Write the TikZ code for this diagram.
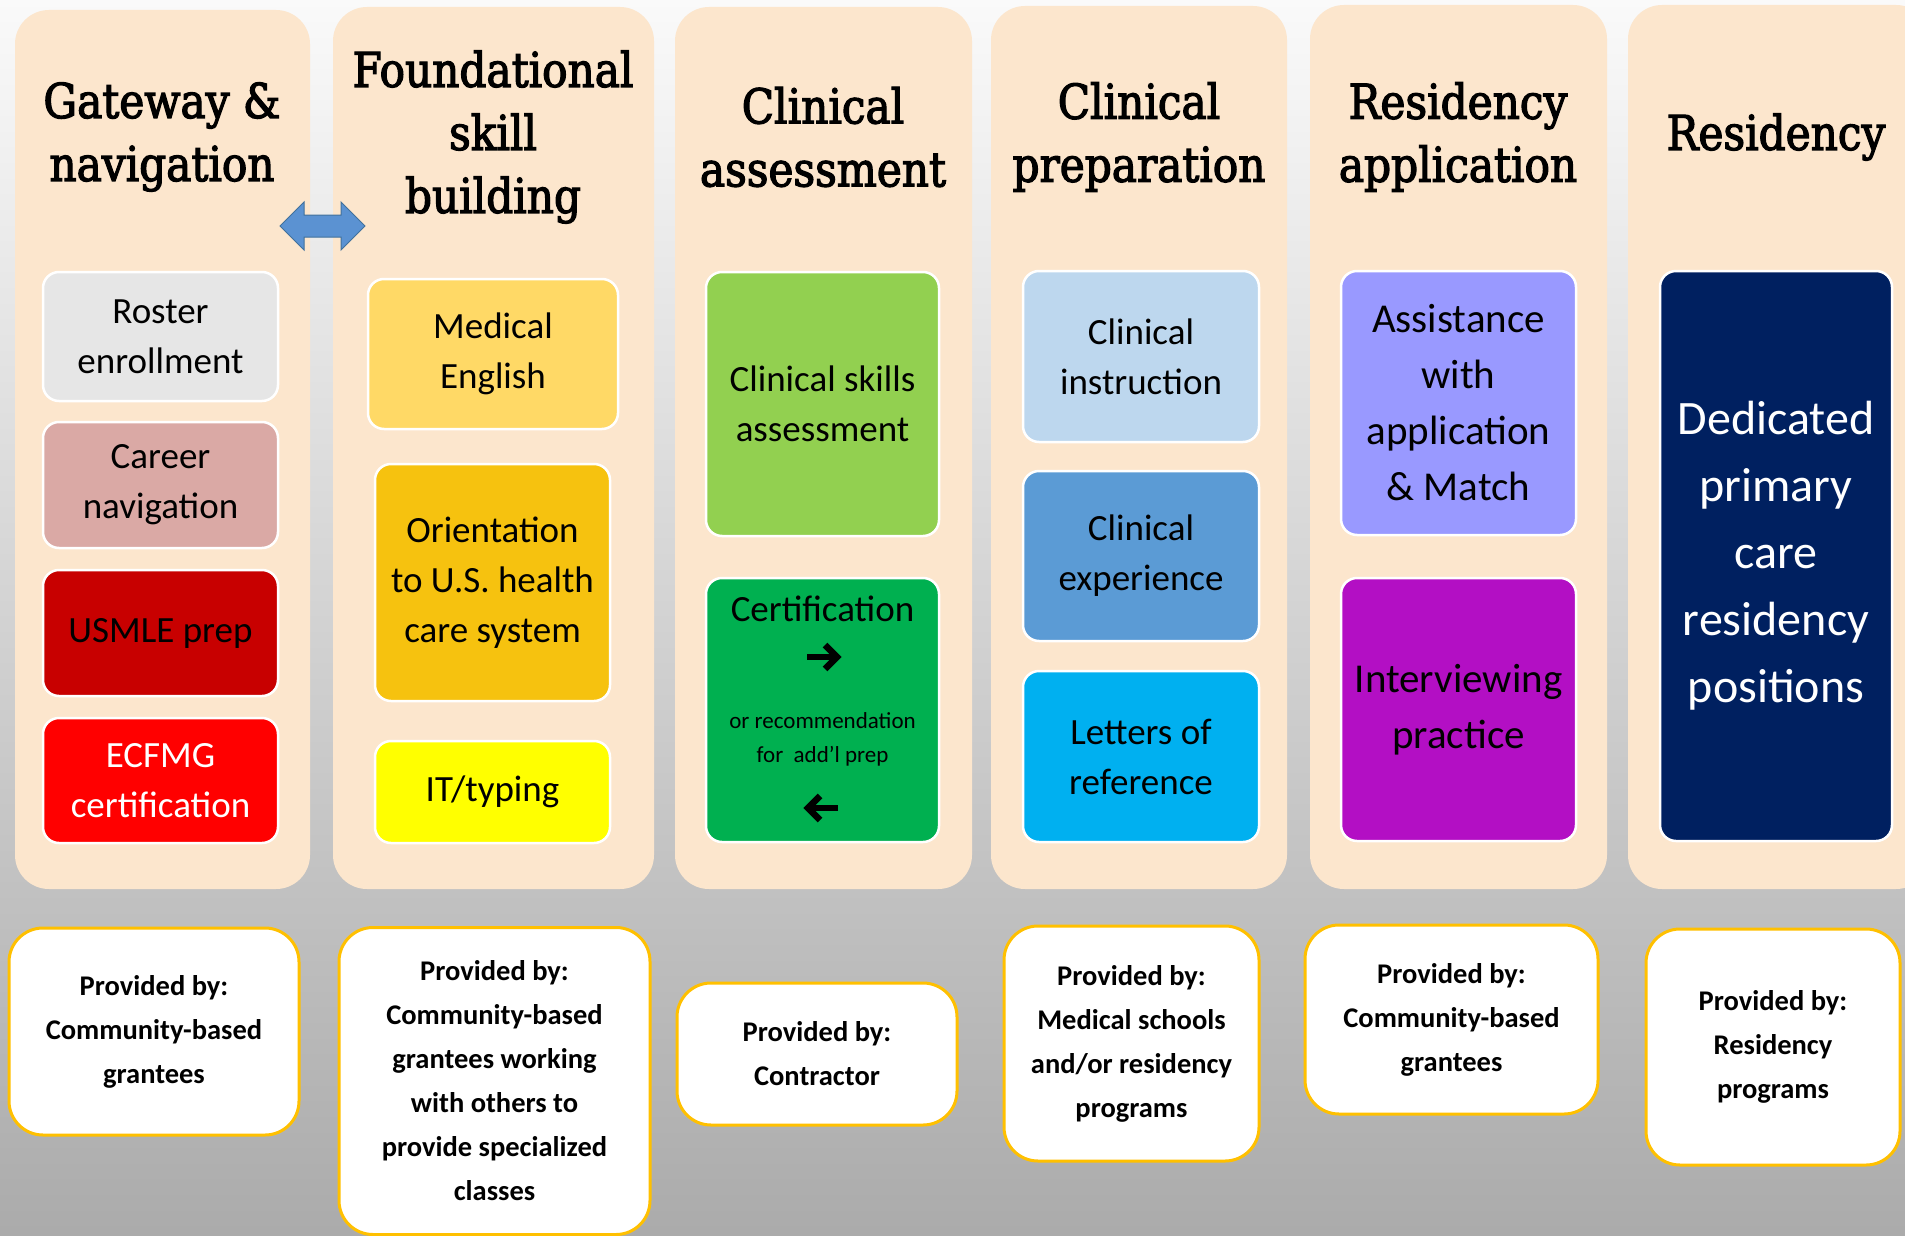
\documentclass[tikz,border=0pt]{standalone}
\usepackage{fontspec}
\setmainfont{Carlito}
\newfontfamily\headfont[FakeStretch=0.88,FakeBold=2.5]{DejaVu Serif}
\definecolor{peach}{HTML}{FCE6CD}
\definecolor{gold}{HTML}{FFC000}
\definecolor{cRoster}{HTML}{E6E6E6}
\definecolor{cCareer}{HTML}{DAA9A5}
\definecolor{cUsmle}{HTML}{C80000}
\definecolor{cEcfmg}{HTML}{FF0000}
\definecolor{cMedEng}{HTML}{FFD966}
\definecolor{cOrient}{HTML}{F6C20F}
\definecolor{cIT}{HTML}{FFFF00}
\definecolor{cSkills}{HTML}{92D050}
\definecolor{cCert}{HTML}{00B050}
\definecolor{cInstr}{HTML}{BDD7EE}
\definecolor{cExper}{HTML}{5B9BD5}
\definecolor{cLetters}{HTML}{00B0F0}
\definecolor{cAssist}{HTML}{9999FF}
\definecolor{cInterv}{HTML}{B30FC4}
\definecolor{cDedic}{HTML}{002060}
\definecolor{arrowblue}{HTML}{5B92D2}
\definecolor{arrowedge}{HTML}{41719C}
\tikzset{
  colbox/.style={fill=peach, rounded corners=34pt, inner sep=0pt},
  head/.style={font=\headfont\fontsize{48}{63}\selectfont, align=center, text=black},
  item/.style={draw=white, line width=2.5pt, rounded corners=16pt, inner sep=0pt,
    align=center, font=\fontsize{37}{50}\selectfont, text=black},
  bigitem/.style={item, font=\fontsize{41}{56}\selectfont},
  prov/.style={fill=white, draw=gold, line width=3pt, rounded corners=34pt, inner sep=0pt,
    align=center, font=\bfseries\fontsize{28.5}{44}\selectfont},
  heavyarrow/.style={line width=6.5pt, black},
}
\begin{document}
\begin{tikzpicture}[x=1pt, y=-1pt]
\useasboundingbox (0,0) rectangle (1905,1236);
\clip (0,0) rectangle (1905,1236);
\shade[top color=white!96!gray, middle color=black!16, bottom color=black!33] (0,0) rectangle (1905,1236);

% columns
\node[colbox, minimum width=295pt, minimum height=879pt] (c1) at (162.5,449.5) {};
\node[colbox, minimum width=321pt, minimum height=882pt] (c2) at (493.5,448) {};
\node[colbox, minimum width=297pt, minimum height=882pt] (c3) at (823.5,448) {};
\node[colbox, minimum width=296pt, minimum height=883pt] (c4) at (1139,447.5) {};
\node[colbox, minimum width=297pt, minimum height=884pt] (c5) at (1458.5,447) {};
\node[colbox, minimum width=302pt, minimum height=884pt] (c6) at (1779,447) {};

% headings
\node[head] (h1) at (162,137) {Gateway \&\\navigation};
\node[head] (h2) at (493,137) {Foundational\\skill\\building};
\node[head] (h3) at (823,137) {Clinical\\assessment};
\node[head] (h4) at (1139,137) {Clinical\\preparation};
\node[head] (h5) at (1458,137) {Residency\\application};
\node[head] (h6) at (1776,137) {Residency};

% double arrow between first two columns
\fill[arrowblue, draw=arrowedge, line width=1pt]
  (280,226) -- (304,202) -- (304,215) -- (341,215) -- (341,202) -- (365,226)
  -- (341,250) -- (341,237) -- (304,237) -- (304,250) -- cycle;

% column 1
\node[item, fill=cRoster, minimum width=235pt, minimum height=129pt] (roster) at (160.5,336.5) {Roster\\enrollment};
\node[item, fill=cCareer, minimum width=235pt, minimum height=126pt] (career) at (160.5,485) {Career\\navigation};
\node[item, fill=cUsmle, minimum width=235pt, minimum height=126pt] (usmle) at (160.5,633) {USMLE prep};
\node[item, fill=cEcfmg, text=white, minimum width=235pt, minimum height=125pt] (ecfmg) at (160.5,780.5) {ECFMG\\certification};

% column 2
\node[item, fill=cMedEng, minimum width=250pt, minimum height=150pt] (meng) at (493,354) {Medical\\English};
\node[item, fill=cOrient, minimum width=235pt, minimum height=237pt] (orient) at (492.5,582.5) {Orientation\\to U.S. health\\care system};
\node[item, fill=cIT, minimum width=235pt, minimum height=102pt] (ittyping) at (492.5,792) {IT/typing};

% column 3
\node[item, fill=cSkills, minimum width=233pt, minimum height=264pt] (skills) at (822.5,404) {Clinical skills\\assessment};
\node[item, fill=cCert, minimum width=233pt, minimum height=264pt] (cert) at (822.5,710) {};
\node[font=\fontsize{37}{50}\selectfont] (certa) at (822.5,609) {Certification};
\node[align=center, font=\fontsize{23}{34}\selectfont] (certc) at (822.5,739) {or recommendation\\for\ \ add'l prep};
% heavy arrows inside the certification box
\draw[heavyarrow] (807,657) -- (834,657);
\draw[heavyarrow, line join=miter] (825,645) -- (837,657) -- (825,669);
\draw[heavyarrow] (838,808) -- (811,808);
\draw[heavyarrow, line join=miter] (820,796) -- (808,808) -- (820,820);

% column 4
\node[item, fill=cInstr, minimum width=236pt, minimum height=171pt] (instr) at (1141,356.5) {Clinical\\instruction};
\node[item, fill=cExper, minimum width=236pt, minimum height=170pt] (exper) at (1141,556) {Clinical\\experience};
\node[item, fill=cLetters, minimum width=236pt, minimum height=171pt] (letters) at (1141,756.5) {Letters of\\reference};

% column 5
\node[bigitem, fill=cAssist, minimum width=235pt, minimum height=264pt] (assist) at (1458.5,403) {Assistance\\with\\application\\\& Match};
\node[bigitem, fill=cInterv, minimum width=235pt, minimum height=263pt] (interv) at (1458.5,709.5) {Interviewing\\practice};

% column 6
\node[item, fill=cDedic, text=white, font=\fontsize{48}{67}\selectfont, minimum width=232pt, minimum height=570pt] (dedic) at (1776,556) {Dedicated\\primary\\care\\residency\\positions};

% provided-by boxes
\node[prov, minimum width=290pt, minimum height=207pt] (p1) at (154,1031.5) {Provided by:\\Community-based\\grantees};
\node[prov, minimum width=311pt, minimum height=307pt] (p2) at (494.5,1081) {Provided by:\\Community-based\\grantees working\\with others to\\provide specialized\\classes};
\node[prov, minimum width=280pt, minimum height=142pt] (p3) at (817,1054) {Provided by:\\Contractor};
\node[prov, minimum width=255pt, minimum height=235pt] (p4) at (1131.5,1043.5) {Provided by:\\Medical schools\\and/or residency\\programs};
\node[prov, minimum width=293pt, minimum height=189pt] (p5) at (1451.5,1019.5) {Provided by:\\Community-based\\grantees};
\node[prov, minimum width=254pt, minimum height=236pt] (p6) at (1773,1047) {Provided by:\\Residency\\programs};
\end{tikzpicture}
\end{document}
